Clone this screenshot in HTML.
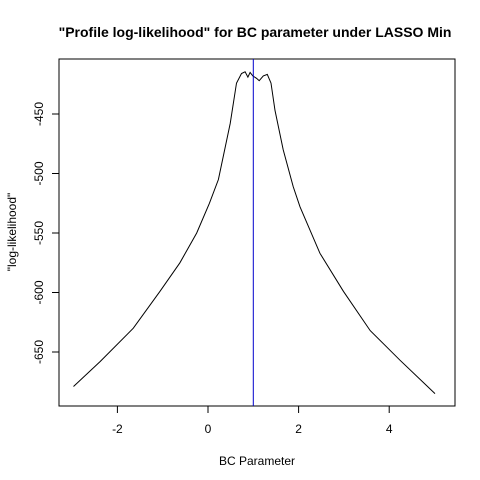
<!DOCTYPE html>
<html><head><meta charset="utf-8"><style>body{margin:0;background:#fff}svg{display:block}text{font-family:"Liberation Sans",sans-serif}</style></head>
<body>
<svg id="chart" width="480" height="480">
<text x="255" y="37" text-anchor="middle" font-weight="bold" font-size="14">"Profile log-likelihood" for BC parameter under LASSO Min</text>
<rect x="59" y="59" width="396" height="347" fill="none" stroke="#000"/>
<g id="xaxis"></g>
<g id="yaxis"></g>
<text x="257" y="465" text-anchor="middle" font-size="12">BC Parameter</text>
<text transform="translate(16,232) rotate(-90)" text-anchor="middle" font-size="12">"log-likelihood"</text>
<path id="curve" fill="none" stroke="#000" stroke-width="1"/>
<line id="vline" stroke="#0000cc" stroke-width="1"/>
</svg>
<script>
const xVals=[-2.97,-2.38,-1.65,-1.06,-0.62,-0.25,0.03,0.23,0.49,0.63,0.74,0.82,0.88,0.93,0.99,1.07,1.13,1.22,1.31,1.39,1.48,1.66,1.88,2.03,2.47,2.99,3.58,4.24,5.01];
const yVals=[-679,-658,-630,-599,-575,-550,-525,-505,-458,-424,-416,-414.5,-419,-415,-418,-420,-422,-418,-416.7,-424,-447,-480,-511,-528,-567,-599,-632,-657,-685];
const xTicks=[-2,0,2,4];
const yTicks=[-450,-500,-550,-600,-650];
const vlineX=1;
const sx=v=>208+45.3*v, sy=v=>352-(v+650)*1.19;
const NS="http://www.w3.org/2000/svg";
const xa=document.getElementById('xaxis'), ya=document.getElementById('yaxis');
function mk(t,a,p){const e=document.createElementNS(NS,t);for(const k in a)e.setAttribute(k,a[k]);p.appendChild(e);return e;}
xTicks.forEach(t=>{const x=sx(t);
const l=mk('line',{x1:x,x2:x,y1:406,y2:413,stroke:'#000'},xa);


const tx=mk('text',{x:x,y:433,'text-anchor':'middle','font-size':12},xa);tx.textContent=t;

});
yTicks.forEach(t=>{const y=sy(t);
const l=mk('line',{x1:52,x2:59,y1:y,y2:y,stroke:'#000'},ya);


const tx=mk('text',{transform:`translate(43,${y}) rotate(-90)`,'text-anchor':'middle','font-size':12},ya);tx.textContent=t;

});
document.getElementById('curve').setAttribute('d',xVals.map((v,i)=>(i?'L':'M')+sx(v).toFixed(1)+','+sy(yVals[i]).toFixed(1)).join(''));
const vl=document.getElementById('vline');
vl.setAttribute('x1',sx(vlineX));vl.setAttribute('x2',sx(vlineX));vl.setAttribute('y1',59);vl.setAttribute('y2',406);
</script>
</body></html>
